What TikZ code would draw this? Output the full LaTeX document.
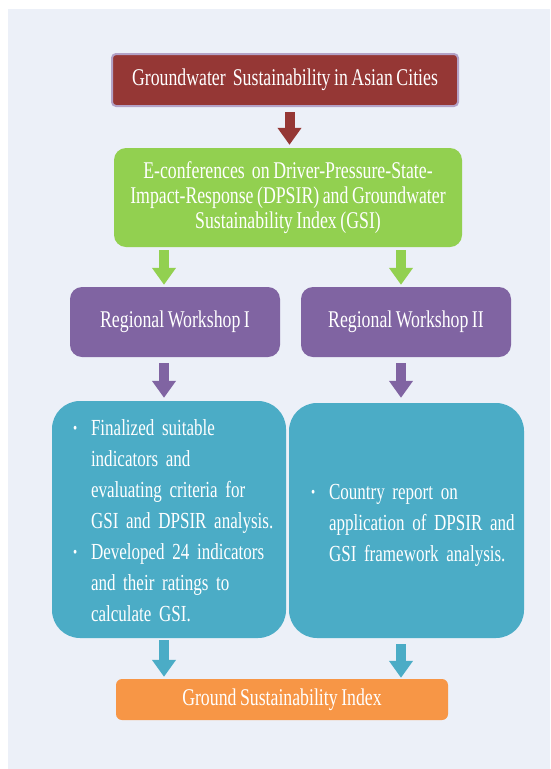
\documentclass[tikz,border=0pt]{standalone}
\usepackage{fontspec}
\setmainfont{Liberation Serif}[FakeStretch=0.74, WordSpace=0.8]
\usetikzlibrary{arrows.meta}

\definecolor{bgblue}{HTML}{ECF0F8}
\definecolor{darkred}{HTML}{953735}
\definecolor{lavender}{HTML}{B3A2C7}
\definecolor{leafgreen}{HTML}{92D050}
\definecolor{plum}{HTML}{8064A2}
\definecolor{seablue}{HTML}{4BACC6}
\definecolor{tangerine}{HTML}{F79646}

% small bullet in front of a list line
\newcommand{\bul}{\makebox[19pt][l]{\hspace*{1pt}\raisebox{2.5pt}{\fontsize{16}{16}\selectfont\textbullet}}}

\begin{document}
\begin{tikzpicture}[x=1pt,y=-1pt,
	box/.style={inner sep=0pt, text=white, font=\fontsize{24}{25}\selectfont},
	listbox/.style={box, fill=seablue, rounded corners=28pt,
		font=\fontsize{23}{31}\selectfont},
	bigarrow/.style={line width=10pt, -{Triangle[length=17pt,width=23pt]}}]
	\fill[bgblue] (8,9) rectangle (550,769);
	\useasboundingbox (0,0) rectangle (550,769);
	% columns of the arrows
	\coordinate (midcol) at (289.5,0);
	\coordinate (leftcol) at (164,0);
	\coordinate (rightcol) at (401,0);

	\node[box, fill=darkred, draw=lavender, line width=2pt, rounded corners=4pt,
		minimum width=346pt, minimum height=52pt] (cities) at (285,80)
		{Groundwater\ \ Sustainability in Asian Cities};
	\node[box, fill=leafgreen, rounded corners=12pt, minimum width=348pt,
		minimum height=99pt, align=center] (econf) at (288,197.5)
		{E-conferences\ \ on Driver-Pressure-State-\\
		Impact-Response (DPSIR) and Groundwater\\
		Sustainability Index (GSI)};

	\node[box, fill=plum, rounded corners=12pt, minimum width=210pt,
		minimum height=70pt] (ws1) at (175,322) {Regional Workshop I};
	\node[box, fill=plum, rounded corners=12pt, minimum width=210pt,
		minimum height=70pt] (ws2) at (406,322) {Regional Workshop II};

	\node[listbox, inner xsep=20pt, text width=194pt, minimum height=237pt]
		(out1) at (169,519.5) {\noindent\raisebox{-3pt}[\height][\depth]{%
		\begin{tabular}{@{}l@{}l@{}}
		\bul & Finalized suitable\\
		    & indicators and\\
		    & evaluating criteria for\\
		    & GSI and DPSIR analysis.\\
		\bul & Developed 24 indicators\\
		    & and their ratings to\\
		    & calculate GSI.
		\end{tabular}}};
	\node[listbox, inner xsep=21pt, text width=193pt, minimum height=235pt]
		(out2) at (406.5,520.5) {\noindent\raisebox{-4pt}[\height][\depth]{%
		\begin{tabular}{@{}l@{}l@{}}
		\bul & Country report on\\
		    & application of DPSIR and\\
		    & GSI framework analysis.
		\end{tabular}}};

	\node[box, fill=tangerine, rounded corners=6pt, minimum width=332pt,
		minimum height=41pt] (gsi) at (282,699.5) {Ground Sustainability Index};

	\draw[bigarrow, darkred, shorten <=5pt, shorten >=3pt] (cities.south -| midcol) -- (econf.north -| midcol);
	\draw[bigarrow, leafgreen, shorten <=3pt, shorten >=2pt] (econf.south -| leftcol) -- (ws1.north -| leftcol);
	\draw[bigarrow, leafgreen, shorten <=3pt, shorten >=2pt] (econf.south -| rightcol) -- (ws2.north -| rightcol);
	\draw[bigarrow, plum, shorten <=6pt, shorten >=3pt] (ws1.south -| leftcol) -- (out1.north -| leftcol);
	\draw[bigarrow, plum, shorten <=6pt, shorten >=5pt] (ws2.south -| rightcol) -- (out2.north -| rightcol);
	\draw[bigarrow, seablue, shorten <=2pt, shorten >=2pt] (out1.south -| leftcol) -- (gsi.north -| leftcol);
	\draw[bigarrow, seablue, shorten <=6pt, shorten >=1pt] (out2.south -| rightcol) -- (gsi.north -| rightcol);
\end{tikzpicture}
\end{document}
